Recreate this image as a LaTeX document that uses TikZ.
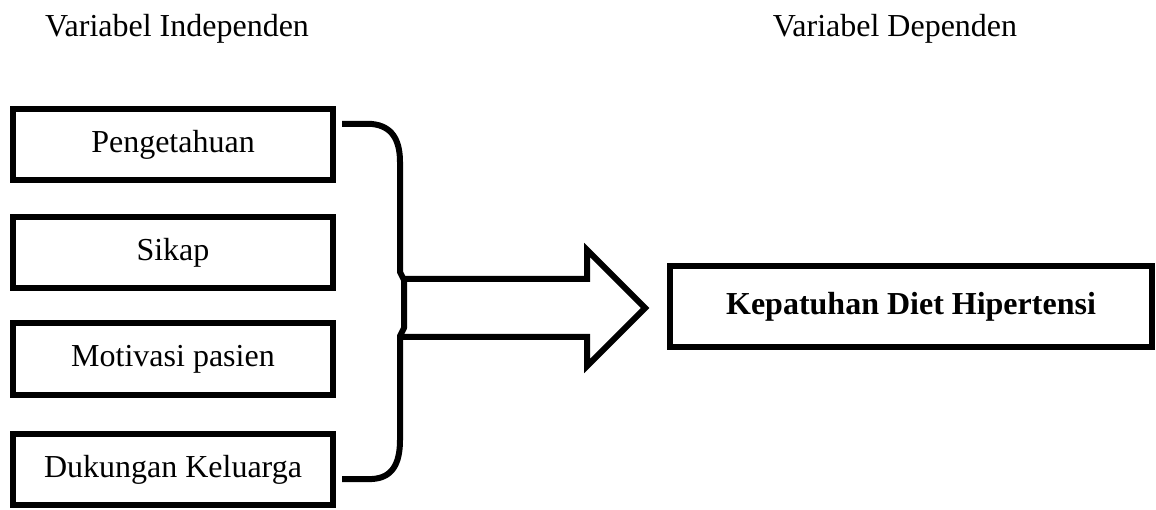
\documentclass[tikz,border=0pt]{standalone}
\usepackage{fontspec}
\setmainfont{Liberation Serif}
\begin{document}
\begin{tikzpicture}[x=1pt,y=-1pt,
  every node/.style={font=\fontsize{32}{38}\selectfont},
  varbox/.style={draw=black,line width=6pt,minimum width=320pt,minimum height=71pt,inner sep=0pt,anchor=center},
  depbox/.style={draw=black,line width=6pt,minimum width=482pt,minimum height=81pt,inner sep=0pt,anchor=center,font=\fontsize{32}{38}\selectfont\bfseries},
  heavy/.style={line width=6pt,line join=miter}
]
\useasboundingbox (0,0) rectangle (1156,510);

% column headings
\node (hi) at (177,29) {Variabel Independen};
\node (hd) at (895,29) {Variabel Dependen};

% independent variables
\node[varbox] (p1) at (173,144.5) {Pengetahuan};
\node[varbox] (p2) at (173,253) {Sikap};
\node[varbox] (p3) at (173,359) {Motivasi pasien};
\node[varbox] (p4) at (173,469.5) {Dukungan Keluarga};

% dependent variable
\node[depbox] (dv) at (911,306.5) {Kepatuhan Diet Hipertensi};

% brace grouping the independent variables, with its small middle point
\coordinate (bt) at (342,124);
\coordinate (bb) at (342,479);
\draw[heavy,line join=round] (bt) -- (372,124) .. controls (392,126) and (400,140) .. (400,162)
  -- (400,272) -- (404,280) -- (404,328) -- (400,336)
  -- (400,440) .. controls (400,464) and (392,478) .. (372,479) -- (bb);

% block arrow towards the dependent variable
\coordinate (a0) at (402,279);
\coordinate (a1) at (402,337);
\coordinate (tip) at (645,308);
\draw[heavy] (a0) -- (587,279) -- (587,250) -- (tip) -- (587,366) -- (587,337) -- (a1);
\end{tikzpicture}
\end{document}
